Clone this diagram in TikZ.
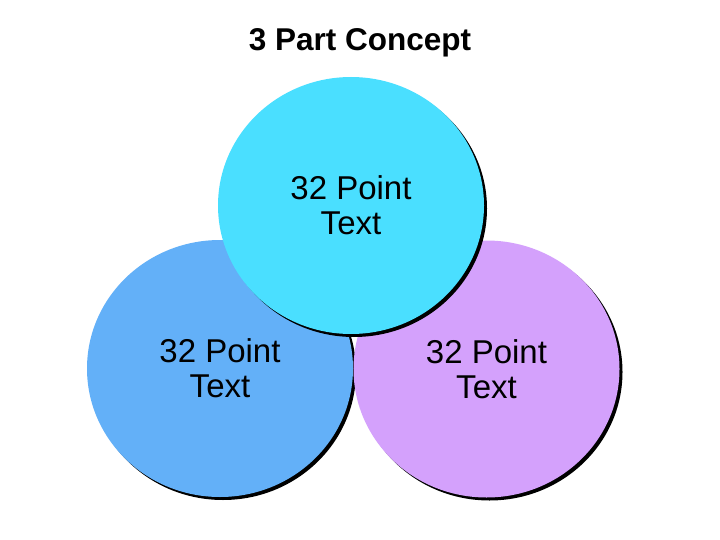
\documentclass[tikz,border=0pt]{standalone}
\usepackage{fontspec}
\setmainfont{Liberation Sans}
\usetikzlibrary{shapes.geometric,shadows}
\definecolor{cyanfill}{RGB}{74,223,255}
\definecolor{bluefill}{RGB}{99,176,248}
\definecolor{purplefill}{RGB}{212,161,252}
\tikzset{
  part/.style={ellipse, inner sep=0pt, minimum width=266pt, minimum height=257pt,
    align=center, font=\fontsize{33}{35}\selectfont,
    drop shadow={shadow xshift=3pt, shadow yshift=-3pt, opacity=1, fill=black}},
  title/.style={font=\bfseries\fontsize{31.5}{34}\selectfont, anchor=base}
}
\begin{document}
\begin{tikzpicture}[x=1pt,y=-1pt]
\useasboundingbox[fill=white] (0,0) rectangle (720,540);
\node[title] (t) at (360,51) {3 Part Concept};
\node[part, fill=bluefill] (left) at (220,368.5) {32 Point\\Text};
\node[part, fill=purplefill] (right) at (486.5,369) {32 Point\\Text};
\node[part, fill=cyanfill] (top) at (351,205.5) {32 Point\\Text};
\end{tikzpicture}
\end{document}
